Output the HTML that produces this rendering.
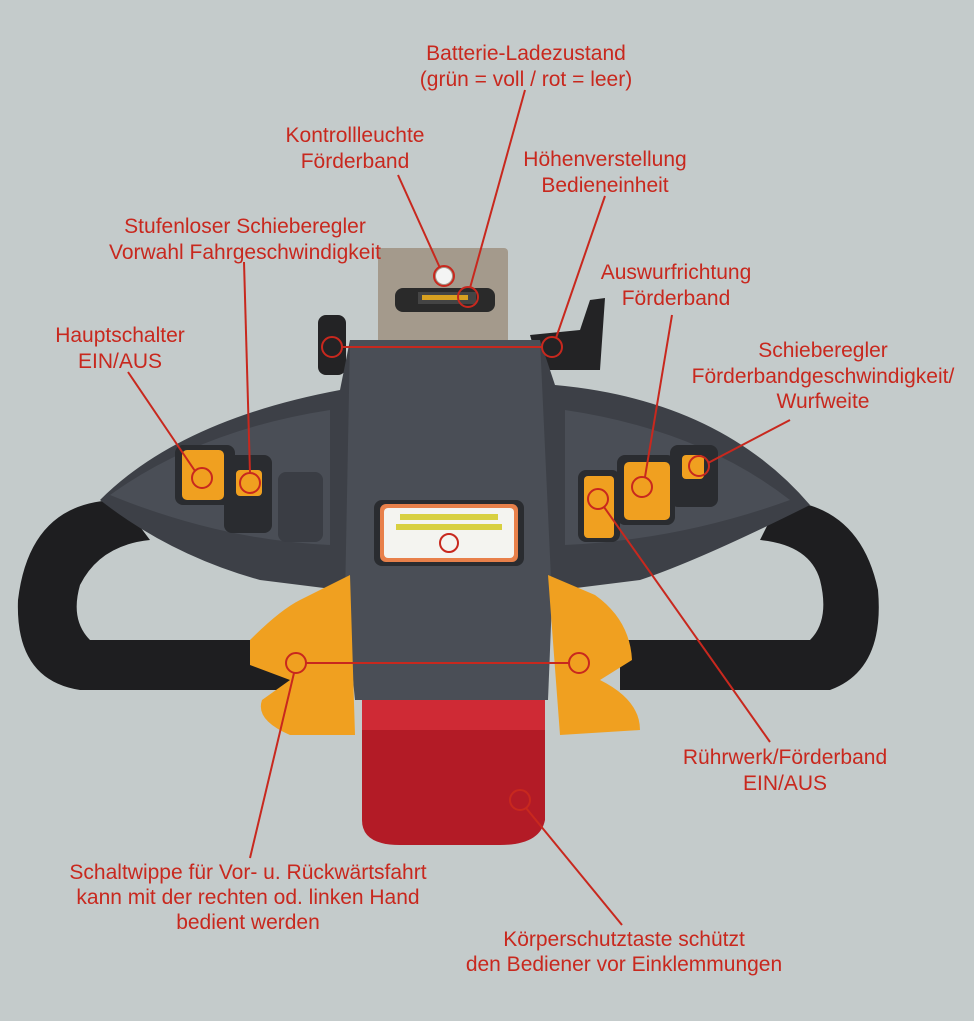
<!DOCTYPE html>
<html><head><meta charset="utf-8"><style>
html,body{margin:0;padding:0;background:#c4cbcb}
svg{display:block}
text{font-family:"Liberation Sans",sans-serif;font-size:21px;fill:#c8281e;text-anchor:middle}
</style></head><body>
<svg width="974" height="1021" viewBox="0 0 974 1021" xmlns="http://www.w3.org/2000/svg">
<rect width="974" height="1021" fill="#c4cbcb"/>
<rect x="378" y="248" width="130" height="100" rx="4" fill="#a49a8c"/>
<rect x="395" y="288" width="100" height="24" rx="8" fill="#2a2a2a"/>
<rect x="418" y="292" width="58" height="12" fill="#444"/>
<rect x="422" y="295" width="46" height="5" fill="#d8a020"/>
<circle cx="444" cy="276" r="8" fill="#f4f4f4"/>
<rect x="318" y="315" width="28" height="60" rx="8" fill="#232325"/>
<path d="M530 335 L580 330 L590 300 L605 298 L600 370 L540 370Z" fill="#232325"/>
<path d="M120 500 Q30 500 18 600 Q15 680 80 690 L290 690 L290 640 L90 640 Q70 620 80 585 Q100 545 150 540Z" fill="#1e1e20"/>
<path d="M780 500 Q860 505 878 590 Q885 670 830 690 L620 690 L620 640 L810 640 Q830 620 820 580 Q810 545 760 540Z" fill="#1e1e20"/>
<path d="M100 500 Q180 420 340 390 L350 340 L540 340 L555 385 Q720 400 810 505 Q700 560 640 580 L560 590 L340 590 L260 580 Q170 555 100 500Z" fill="#3d4047"/>
<path d="M110 495 Q200 430 330 410 L330 545 Q220 540 110 495Z" fill="#4a4e56"/>
<path d="M790 500 Q700 430 565 410 L565 545 Q680 540 790 500Z" fill="#4a4e56"/>
<path d="M350 340 L540 340 L552 600 L548 700 L355 700 L345 600Z" fill="#4a4e56"/>
<rect x="175" y="445" width="60" height="60" rx="8" fill="#2a2c30"/>
<rect x="182" y="450" width="42" height="50" rx="5" fill="#f0a020"/>
<rect x="224" y="455" width="48" height="78" rx="8" fill="#2a2c30"/>
<rect x="236" y="470" width="26" height="26" rx="4" fill="#f0a020"/>
<rect x="278" y="472" width="45" height="70" rx="8" fill="#3a3d44"/>
<rect x="578" y="470" width="42" height="72" rx="8" fill="#2a2c30"/>
<rect x="584" y="476" width="30" height="62" rx="4" fill="#f0a020"/>
<rect x="617" y="455" width="58" height="70" rx="8" fill="#2a2c30"/>
<rect x="624" y="462" width="46" height="58" rx="5" fill="#f0a020"/>
<rect x="670" y="445" width="48" height="62" rx="8" fill="#2a2c30"/>
<rect x="682" y="455" width="22" height="24" rx="4" fill="#f0a020"/>
<rect x="374" y="500" width="150" height="66" rx="8" fill="#2a2c30"/>
<rect x="380" y="504" width="138" height="58" rx="6" fill="#e8804a"/>
<rect x="384" y="508" width="130" height="50" rx="4" fill="#f4f4f0"/>
<rect x="400" y="514" width="98" height="6" fill="#d8d040"/>
<rect x="396" y="524" width="106" height="6" fill="#d8d040"/>
<circle cx="449" cy="543" r="9" fill="none" stroke="#c8281e" stroke-width="2"/>
<path d="M250 640 Q280 610 300 600 L350 575 L355 735 L290 735 Q255 720 262 700 L290 680 L250 665Z" fill="#f0a020"/>
<path d="M548 575 L595 595 Q630 620 632 660 L600 680 Q640 700 640 730 L560 735Z" fill="#f0a020"/>
<path d="M362 700 L545 700 L545 820 Q540 845 500 845 L400 845 Q362 845 362 820Z" fill="#b31b26"/>
<path d="M362 700 L545 700 L545 730 L362 730Z" fill="#cf2a35"/>
<g stroke="#c8281e" stroke-width="2" fill="none">
<line x1="525" y1="90" x2="470" y2="288"/>
<line x1="398" y1="175" x2="440" y2="268"/>
<line x1="605" y1="196" x2="556" y2="338"/>
<line x1="342" y1="347" x2="542" y2="347"/>
<line x1="244" y1="262" x2="250" y2="473"/>
<line x1="128" y1="372" x2="195" y2="471"/>
<line x1="672" y1="315" x2="645" y2="477"/>
<line x1="790" y1="420" x2="708" y2="463"/>
<line x1="604" y1="507" x2="770" y2="742"/>
<line x1="306" y1="663" x2="569" y2="663"/>
<line x1="294" y1="673" x2="250" y2="858"/>
<line x1="526" y1="808" x2="622" y2="925"/>
<circle cx="444" cy="276" r="10"/>
<circle cx="468" cy="297" r="10"/>
<circle cx="332" cy="347" r="10"/>
<circle cx="552" cy="347" r="10"/>
<circle cx="202" cy="478" r="10"/>
<circle cx="250" cy="483" r="10"/>
<circle cx="642" cy="487" r="10"/>
<circle cx="699" cy="466" r="10"/>
<circle cx="598" cy="499" r="10"/>
<circle cx="296" cy="663" r="10"/>
<circle cx="579" cy="663" r="10"/>
<circle cx="520" cy="800" r="10"/>
</g>
<text x="526" y="60">Batterie-Ladezustand</text>
<text x="526" y="86">(grün = voll / rot = leer)</text>
<text x="355" y="142">Kontrollleuchte</text>
<text x="355" y="168">Förderband</text>
<text x="605" y="166">Höhenverstellung</text>
<text x="605" y="192">Bedieneinheit</text>
<text x="245" y="233">Stufenloser Schieberegler</text>
<text x="245" y="259">Vorwahl Fahrgeschwindigkeit</text>
<text x="676" y="279">Auswurfrichtung</text>
<text x="676" y="305">Förderband</text>
<text x="120" y="342">Hauptschalter</text>
<text x="120" y="368">EIN/AUS</text>
<text x="823" y="357">Schieberegler</text>
<text x="823" y="383">Förderbandgeschwindigkeit/</text>
<text x="823" y="408">Wurfweite</text>
<text x="785" y="764">Rührwerk/Förderband</text>
<text x="785" y="790">EIN/AUS</text>
<text x="248" y="879">Schaltwippe für Vor- u. Rückwärtsfahrt</text>
<text x="248" y="904">kann mit der rechten od. linken Hand</text>
<text x="248" y="929">bedient werden</text>
<text x="624" y="946">Körperschutztaste schützt</text>
<text x="624" y="971">den Bediener vor Einklemmungen</text>
</svg>
</body></html>
